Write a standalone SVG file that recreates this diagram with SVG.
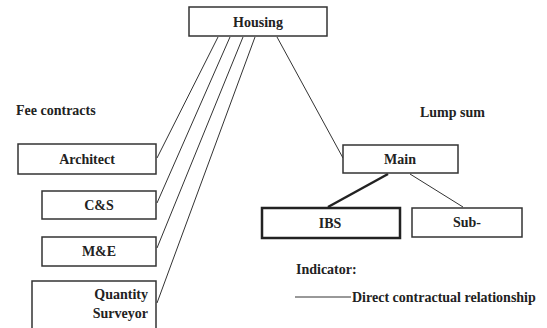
<svg xmlns="http://www.w3.org/2000/svg" width="547" height="328" viewBox="0 0 547 328">
<style>
.box{fill:#fff;stroke:#333;stroke-width:1.5}
.thick{fill:#fff;stroke:#222;stroke-width:2.5}
.t{font-family:"Liberation Serif","Times New Roman",serif;font-weight:bold;font-size:14px;fill:#222}
.c{text-anchor:middle}
.ln{stroke:#333;stroke-width:1;fill:none}
</style>
<rect width="547" height="328" fill="#fff"/>
<g id="connectors">
<line class="ln" x1="218" y1="37" x2="157" y2="158"/>
<line class="ln" x1="230" y1="37" x2="157" y2="203"/>
<line class="ln" x1="243" y1="37" x2="157" y2="248"/>
<line class="ln" x1="255" y1="37" x2="157" y2="303"/>
<line class="ln" x1="277" y1="37" x2="343" y2="158"/>
<line class="ln" x1="388" y1="174" x2="328" y2="207" style="stroke-width:2.5;stroke:#222"/>
<line class="ln" x1="410" y1="174" x2="463" y2="207"/>
<line class="ln" x1="295" y1="297" x2="351" y2="297"/>
</g>
<g id="housing"><rect class="box" x="189" y="7" width="138" height="29"/><text class="t c" x="258" y="27">Housing</text></g>
<text class="t" x="16" y="115">Fee contracts</text>
<text class="t" x="420" y="117">Lump sum</text>
<g id="architect"><rect class="box" x="18" y="144" width="138" height="30"/><text class="t c" x="87" y="164">Architect</text></g>
<g id="cs"><rect class="box" x="42" y="191" width="114" height="28"/><text class="t c" x="99" y="210">C&amp;S</text></g>
<g id="me"><rect class="box" x="42" y="237" width="114" height="29"/><text class="t c" x="99" y="256">M&amp;E</text></g>
<g id="qs"><rect class="box" x="32" y="281" width="124" height="50"/><text class="t" x="148" y="299" text-anchor="end">Quantity</text><text class="t" x="148" y="318" text-anchor="end">Surveyor</text></g>
<g id="main"><rect class="box" x="343" y="145" width="115" height="28"/><text class="t c" x="400" y="164">Main</text></g>
<g id="ibs"><rect class="thick" x="262" y="208" width="138" height="30"/><text class="t c" x="330" y="228">IBS</text></g>
<g id="sub"><rect class="box" x="412" y="208" width="110" height="29"/><text class="t c" x="467" y="227">Sub-</text></g>
<text class="t" x="296" y="274">Indicator:</text>
<text class="t" x="352" y="302">Direct contractual relationship</text>
</svg>
